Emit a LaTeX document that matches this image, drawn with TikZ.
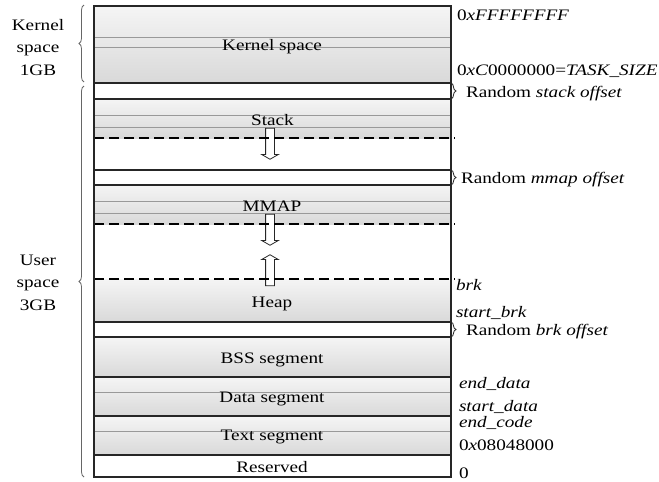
\documentclass[tikz,border=0pt]{standalone}
\usepackage{fontspec}
\setmainfont{Liberation Serif}[FakeStretch=1.2]
\usetikzlibrary{shapes.arrows,decorations.pathreplacing}

\begin{document}
\begin{tikzpicture}[x=1pt,y=-1pt,
  txt/.style={font=\fontsize{16}{22}\selectfont, inner sep=0pt, outer sep=0pt},
  region/.style={minimum width=357pt, inner sep=0pt, outer sep=0pt, draw=none,
                 top color=black!4, bottom color=black!15},
  thinline/.style={draw=black!40, line width=0.7pt},
  sepline/.style={draw=black!85, line width=1.5pt},
  boundary/.style={draw=black, line width=2pt, dash pattern=on 10pt off 5pt},
  growth/.style={single arrow, draw=black!85, fill=white, line width=0.8pt,
                 minimum height=31pt, minimum width=16pt, inner xsep=0pt, inner ysep=4pt,
                 single arrow head extend=4pt, single arrow tip angle=120},
  leftbrace/.style={decorate, decoration={brace, amplitude=5pt}, draw=black!60, line width=0.8pt},
  rightbrace/.style={decorate, decoration={brace, amplitude=5pt}, draw=black!85, line width=0.8pt}]

\useasboundingbox (0,0) rectangle (659,482);
\fill[white] (0,0) rectangle (659,482);

% shaded memory regions
\node[region, minimum height=77pt] (kern) at (272.5,44.5) {};
\node[region, minimum height=39pt] (stk)  at (272.5,118.5) {};
\node[region, minimum height=39pt] (mmap) at (272.5,204.5) {};
\node[region, minimum height=43pt] (heap) at (272.5,300.5) {};
\node[region, minimum height=40pt] (bss)  at (272.5,357) {};
\node[region, minimum height=39pt] (data) at (272.5,396.5) {};
\node[region, minimum height=39pt] (text) at (272.5,435.5) {};

% thin inner rules
\draw[thinline] (94,37) -- (451,37);
\draw[thinline] (94,47) -- (451,47);
\draw[thinline] (94,115) -- (451,115);
\draw[thinline] (94,127) -- (451,127);
\draw[thinline] (94,201) -- (451,201);
\draw[thinline] (94,213) -- (451,213);
\draw[thinline] (94,392) -- (451,392);
\draw[thinline] (94,431) -- (451,431);

% growth directions
\node[growth, rotate=-90] (stkgrow)  at (270,142.5) {};
\node[growth, rotate=-90] (mmapgrow) at (270,228.5) {};
\node[growth, rotate=90]  (heapgrow) at (270,271.5) {};

% moving boundaries
\draw[boundary] (94,138) -- (455,138);
\draw[boundary] (94,224) -- (455,224);
\draw[boundary] (94,279) -- (455,279);

% fixed boundaries
\draw[draw=black!85, line width=2pt] (94,83) -- (451,83);
\draw[sepline] (94,99) -- (451,99);
\draw[sepline] (94,170) -- (451,170);
\draw[sepline] (94,185) -- (451,185);
\draw[sepline] (94,322) -- (451,322);
\draw[sepline] (94,337) -- (451,337);
\draw[sepline] (94,377) -- (451,377);
\draw[sepline] (94,416) -- (451,416);
\draw[sepline] (94,455) -- (451,455);
\draw[draw=black!85, line width=1.2pt] (94,6) rectangle (451,477);

% region names
\node[txt, anchor=base] (kernname) at (272,50) {Kernel space};
\node[txt, anchor=base] (stkname)  at (272.5,125) {Stack};
\node[txt, anchor=base] (mmapname) at (272,211) {MMAP};
\node[txt, anchor=base] (heapname) at (272,307) {Heap};
\node[txt, anchor=base] (bssname)  at (272,363) {BSS segment};
\node[txt, anchor=base] (dataname) at (272,402) {Data segment};
\node[txt, anchor=base] (textname) at (272,440) {Text segment};
\node[txt, anchor=base] (resvname) at (272,472) {Reserved};

% address-space split
\node[txt, anchor=base] (k1) at (38,30) {Kernel};
\node[txt, anchor=base] (k2) at (38,52.5) {space};
\node[txt, anchor=base] (k3) at (38,75) {1GB};
\node[txt, anchor=base] (u1) at (38,265) {User};
\node[txt, anchor=base] (u2) at (38,287.5) {space};
\node[txt, anchor=base] (u3) at (38,310) {3GB};
\draw[leftbrace] (84,82) -- (84,5);
\draw[leftbrace] (84,477) -- (84,86);

% random offsets
\draw[rightbrace] (451,83) -- (451,99);
\draw[rightbrace] (451,170) -- (451,185);
\draw[rightbrace] (451,322) -- (451,337);
\node[txt, anchor=base west] (rstk)  at (466,97)  {Random \textit{stack offset}};
\node[txt, anchor=base west] (rmmap) at (461,183) {Random \textit{mmap offset}};
\node[txt, anchor=base west] (rbrk)  at (466,335) {Random \textit{brk offset}};

% addresses and markers
\node[txt, anchor=base west] (atop)   at (457,20)  {0\textit{xFFFFFFFF}};
\node[txt, anchor=base west] (atask)  at (457,75)  {0\textit{xC}0000000=\textit{TASK\_SIZE}};
\node[txt, anchor=base west] (abrk)   at (456,290) {\textit{brk}};
\node[txt, anchor=base west] (asbrk)  at (456,317) {\textit{start\_brk}};
\node[txt, anchor=base west] (aed)    at (459,388) {\textit{end\_data}};
\node[txt, anchor=base west] (asd)    at (459,411) {\textit{start\_data}};
\node[txt, anchor=base west] (aec)    at (459,427) {\textit{end\_code}};
\node[txt, anchor=base west] (acode)  at (459,450) {0\textit{x}08048000};
\node[txt, anchor=base west] (azero)  at (459,478) {0};
\end{tikzpicture}
\end{document}
